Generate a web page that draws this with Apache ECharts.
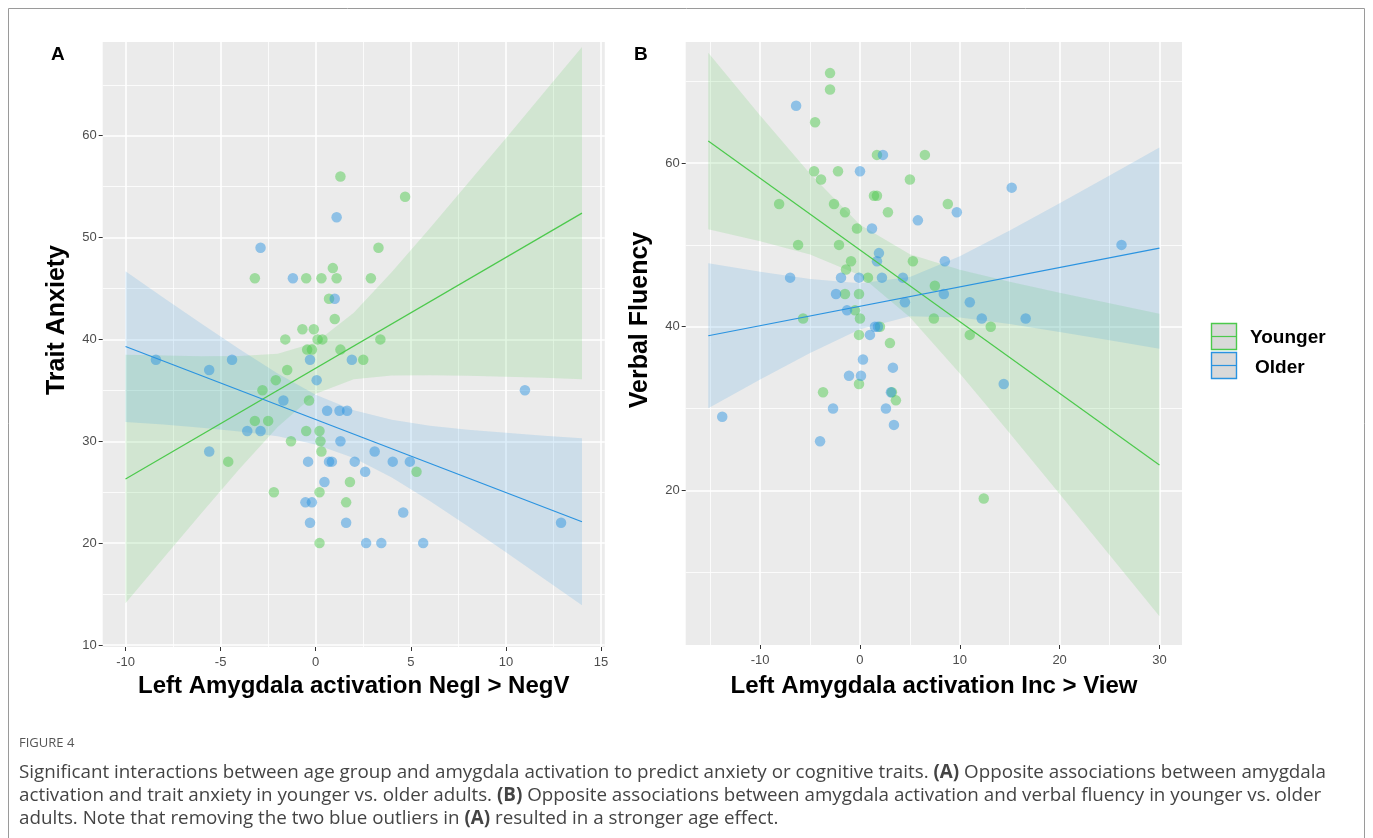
<!DOCTYPE html>
<html><head><meta charset="utf-8">
<script src="https://cdn.jsdelivr.net/npm/echarts@6/dist/echarts.min.js"></script>
<style>html,body{margin:0;padding:0;background:#fff}#c{width:1373px;height:838px}</style>
</head><body><div id="c"></div>
<script>
// ---------- Panel A: Trait Anxiety vs Left Amygdala activation NegI > NegV ----------
const youngerA = [[1.3,56],[4.7,54],[3.3,49],[0.9,47],[-3.2,46],[-0.5,46],[0.3,46],[1.1,46],[2.9,46],[0.7,44],[1.0,42],[-0.7,41],[-0.1,41],[-1.6,40],[0.1,40],[0.35,40],[3.4,40],[-0.45,39],[-0.2,39],[1.3,39],[2.5,38],[-1.5,37],[-2.1,36],[-2.8,35],[-0.35,34],[-3.2,32],[-2.5,32],[-0.5,31],[0.2,31],[-1.3,30],[0.25,30],[0.3,29],[-4.6,28],[5.3,27],[1.8,26],[-2.2,25],[0.2,25],[1.6,24],[0.2,20]];
const olderA = [[1.1,52],[-2.9,49],[-1.2,46],[1.0,44],[-8.4,38],[-4.4,38],[-0.3,38],[1.9,38],[-5.6,37],[0.05,36],[11.0,35],[-1.7,34],[0.6,33],[1.25,33],[1.65,33],[-3.6,31],[-2.9,31],[1.3,30],[-5.6,29],[3.1,29],[-0.4,28],[0.7,28],[0.85,28],[2.05,28],[4.05,28],[4.95,28],[2.6,27],[0.46,26],[-0.54,24],[-0.2,24],[4.6,23],[-0.3,22],[1.6,22],[12.9,22],[2.65,20],[3.45,20],[5.65,20]];
const fitA_x = [-10, 14];
const youngerA_fit = [26.3, 52.4];
const olderA_fit = [39.3, 22.1];
const ribbonA_x = [-10,-8,-6,-4,-2,0,2,4,6,8,10,12,14];
const youngerA_lo = [14.1,18.55,22.96,27.3,31.4,34.67,36.09,36.45,36.49,36.44,36.34,36.23,36.09];
const youngerA_hi = [38.5,38.41,38.34,38.36,38.6,39.69,42.61,46.61,50.91,55.32,59.76,64.23,68.71];
const olderA_lo = [31.9,31.64,31.33,30.97,30.48,29.69,28.36,26.43,24.13,21.66,19.11,16.51,13.9];
const olderA_hi = [46.7,44.1,41.53,39.03,36.66,34.57,33.04,32.11,31.53,31.14,30.83,30.55,30.3];
const ticksA_x = [-10,-5,0,5,10,15];
const minorA_x = [-7.5,-2.5,2.5,7.5,12.5];
const ticksA_y = [10,20,30,40,50,60];
const minorA_y = [15,25,35,45,55,65];

// ---------- Panel B: Verbal Fluency vs Left Amygdala activation Inc > View ----------
const youngerB = [[-3.0,71],[-3.0,69],[-4.5,65],[1.7,61],[6.5,61],[-4.6,59],[-2.2,59],[-3.9,58],[5.0,58],[1.4,56],[1.7,56],[-8.1,55],[-2.6,55],[8.8,55],[-1.5,54],[2.8,54],[-0.3,52],[-6.2,50],[-2.1,50],[-0.9,48],[5.3,48],[-1.4,47],[0.8,46],[7.5,45],[-1.5,44],[-0.1,44],[-0.5,42],[-5.7,41],[0.0,41],[7.4,41],[2.0,40],[13.1,40],[-0.1,39],[11.0,39],[3.0,38],[-0.1,33],[-3.7,32],[3.2,32],[3.6,31],[12.4,19]];
const olderB = [[-6.4,67],[2.3,61],[0.0,59],[15.2,57],[9.7,54],[5.8,53],[1.2,52],[26.2,50],[1.9,49],[1.7,48],[8.5,48],[-7.0,46],[-1.9,46],[-0.1,46],[2.2,46],[4.3,46],[-2.4,44],[8.4,44],[4.5,43],[11.0,43],[-1.3,42],[12.2,41],[16.6,41],[1.5,40],[1.8,40],[1.0,39],[0.3,36],[3.3,35],[-1.1,34],[0.1,34],[14.4,33],[3.1,32],[-2.7,30],[2.6,30],[3.4,28],[-4.0,26],[-13.8,29]];
const fitB_x = [-15.2, 30];
const youngerB_fit = [62.7, 23.1];
const olderB_fit = [38.9, 49.6];
const ribbonB_x = [-15.2,-10,-5,0,5,10,15,20,25,30];
const youngerB_lo = [51.9,50.45,48.83,46.29,41.15,34.28,26.99,19.57,12.1,4.6];
const youngerB_hi = [73.5,65.83,58.69,52.47,48.85,46.96,45.49,44.15,42.86,41.6];
const olderB_lo = [30.05,33.54,36.8,39.69,41.28,41.13,40.33,39.37,38.35,37.3];
const olderB_hi = [47.75,46.72,45.84,45.31,46.08,48.61,51.77,55.09,58.49,61.9];
const ticksB_x = [-10,0,10,20,30];
const minorB_x = [-15,-5,5,15,25];
const ticksB_y = [20,40,60];
const minorB_y = [10,30,50,70];

const groups = ['Younger', 'Older'];
const captionLines = [
  'Significant interactions between age group and amygdala activation to predict anxiety or cognitive traits. {b|(A)} Opposite associations between amygdala',
  'activation and trait anxiety in younger vs. older adults. {b|(B)} Opposite associations between amygdala activation and verbal fluency in younger vs. older',
  'adults. Note that removing the two blue outliers in {b|(A)} resulted in a stronger age effect.'
];

// ---------- styles ----------
const GREEN = '#4cc94c', BLUE = '#2a93e0';
const GREEN_PT = 'rgba(76,201,76,0.6)', BLUE_PT = 'rgba(42,147,224,0.6)';
const GREEN_RIB = 'rgba(76,201,76,0.16)', BLUE_RIB = 'rgba(42,147,224,0.16)';
const FONT = 'Liberation Sans, Arial, sans-serif';
const CAP_FONT = 'Open Sans, sans-serif';

function majorAxis(grid, min, max, ticks, isX) {
  return {
    type: 'value', gridIndex: grid, min: min, max: max,
    axisLine: {show: false, onZero: false},
    axisTick: {show: true, customValues: ticks, length: 4, lineStyle: {color: '#333', width: 1}},
    axisLabel: {customValues: ticks, color: '#4d4d4d', fontSize: 13, fontFamily: FONT, margin: isX ? 9 : 6},
    splitLine: {show: true, lineStyle: {color: '#ffffff', width: 1.6}}
  };
}
function minorAxis(grid, min, max, ticks) {
  return {
    type: 'value', gridIndex: grid, min: min, max: max,
    axisLine: {show: false, onZero: false},
    axisTick: {show: false, customValues: ticks},
    axisLabel: {show: false, customValues: ticks},
    splitLine: {show: true, lineStyle: {color: '#ffffff', width: 0.8}}
  };
}
function ribbon(ax, xs, lo, hi, color) {
  return {
    type: 'custom', xAxisIndex: ax, yAxisIndex: ax, clip: true, silent: true, z: 1,
    data: [[xs[0], lo[0]]],
    renderItem: function (params, api) {
      const pts = xs.map((x, i) => api.coord([x, hi[i]]));
      for (let i = xs.length - 1; i >= 0; i--) pts.push(api.coord([xs[i], lo[i]]));
      return {type: 'polygon', shape: {points: pts}, style: {fill: color}};
    }
  };
}
function fitLine(ax, xs, ys, color) {
  return {
    type: 'line', xAxisIndex: ax, yAxisIndex: ax, z: 4, silent: true,
    data: xs.map((x, i) => [x, ys[i]]), symbol: 'none',
    lineStyle: {color: color, width: 1.2}
  };
}
function points(ax, data, color, name) {
  return {
    type: 'scatter', name: name, xAxisIndex: ax, yAxisIndex: ax, z: 3,
    data: data, symbol: 'circle', symbolSize: 10.5,
    itemStyle: {color: color}
  };
}

const chart = echarts.init(document.getElementById('c'), null, {renderer: 'canvas'});
const option = {
  animation: false,
  backgroundColor: '#ffffff',
  grid: [
    {left: 102.7, top: 42, width: 502.1, height: 605, show: true, backgroundColor: '#ebebeb', borderWidth: 0},
    {left: 102.7, top: 42, width: 502.1, height: 605, show: false},
    {left: 685.7, top: 42, width: 496.3, height: 603, show: true, backgroundColor: '#ebebeb', borderWidth: 0},
    {left: 685.7, top: 42, width: 496.3, height: 603, show: false}
  ],
  xAxis: [
    majorAxis(0, -11.2, 15.2, ticksA_x, true),
    minorAxis(1, -11.2, 15.2, minorA_x),
    majorAxis(2, -17.46, 32.26, ticksB_x, true),
    minorAxis(3, -17.46, 32.26, minorB_x)
  ],
  yAxis: [
    majorAxis(0, 9.8, 69.2, ticksA_y, false),
    minorAxis(1, 9.8, 69.2, minorA_y),
    majorAxis(2, 1.1, 74.8, ticksB_y, false),
    minorAxis(3, 1.1, 74.8, minorB_y)
  ],
  series: [
    ribbon(0, ribbonA_x, youngerA_lo, youngerA_hi, GREEN_RIB),
    ribbon(0, ribbonA_x, olderA_lo, olderA_hi, BLUE_RIB),
    points(0, youngerA, GREEN_PT, groups[0]),
    points(0, olderA, BLUE_PT, groups[1]),
    fitLine(0, fitA_x, youngerA_fit, GREEN),
    fitLine(0, fitA_x, olderA_fit, BLUE),
    ribbon(2, ribbonB_x, youngerB_lo, youngerB_hi, GREEN_RIB),
    ribbon(2, ribbonB_x, olderB_lo, olderB_hi, BLUE_RIB),
    points(2, youngerB, GREEN_PT, groups[0]),
    points(2, olderB, BLUE_PT, groups[1]),
    fitLine(2, fitB_x, youngerB_fit, GREEN),
    fitLine(2, fitB_x, olderB_fit, BLUE)
  ],
  graphic: [
    {type: 'rect', shape: {x: 8.5, y: 8.5, width: 1356, height: 850}, style: {fill: null, stroke: '#9a9a9a', lineWidth: 1}, silent: true},
    {type: 'text', left: 51, top: 45, style: {text: 'A', font: 'bold 19px ' + FONT, fill: '#000'}},
    {type: 'text', left: 634, top: 45, style: {text: 'B', font: 'bold 19px ' + FONT, fill: '#000'}},
    {type: 'text', x: 57, y: 320, rotation: Math.PI / 2, style: {text: 'Trait Anxiety', font: 'bold 25px ' + FONT, fill: '#000', align: 'center', verticalAlign: 'middle'}},
    {type: 'text', x: 640, y: 320, rotation: Math.PI / 2, style: {text: 'Verbal Fluency', font: 'bold 25px ' + FONT, fill: '#000', align: 'center', verticalAlign: 'middle'}},
    {type: 'text', x: 353.7, y: 686, style: {text: 'Left Amygdala activation NegI > NegV', font: 'bold 24px ' + FONT, fill: '#000', align: 'center', verticalAlign: 'middle'}},
    {type: 'text', x: 934, y: 686, style: {text: 'Left Amygdala activation Inc > View', font: 'bold 24px ' + FONT, fill: '#000', align: 'center', verticalAlign: 'middle'}},
    // legend
    {type: 'rect', shape: {x: 1211.5, y: 323.5, width: 25, height: 26}, style: {fill: '#d9d9d9', stroke: GREEN, lineWidth: 1.4}},
    {type: 'line', shape: {x1: 1212, y1: 336.5, x2: 1236, y2: 336.5}, style: {stroke: GREEN, lineWidth: 1.2}},
    {type: 'rect', shape: {x: 1211.5, y: 352.5, width: 25, height: 26}, style: {fill: '#d9d9d9', stroke: BLUE, lineWidth: 1.4}},
    {type: 'line', shape: {x1: 1212, y1: 365.5, x2: 1236, y2: 365.5}, style: {stroke: BLUE, lineWidth: 1.2}},
    {type: 'text', x: 1250, y: 338, style: {text: groups[0], font: 'bold 19px ' + FONT, fill: '#000', verticalAlign: 'middle'}},
    {type: 'text', x: 1255, y: 368, style: {text: groups[1], font: 'bold 19px ' + FONT, fill: '#000', verticalAlign: 'middle'}},
    // caption
    {type: 'text', x: 19, y: 743, style: {text: 'FIGURE 4', font: '13px ' + CAP_FONT, fill: '#555', verticalAlign: 'middle'}},
    {type: 'text', x: 19, y: 761, style: {
      text: captionLines.join('\n'),
      font: '18.8px ' + CAP_FONT, fill: '#444', lineHeight: 23,
      rich: {b: {fontWeight: 'bold', fontSize: 18.8, fontFamily: CAP_FONT, fill: '#444', lineHeight: 23}}
    }}
  ]
};
chart.setOption(option);
</script>
</body></html>
